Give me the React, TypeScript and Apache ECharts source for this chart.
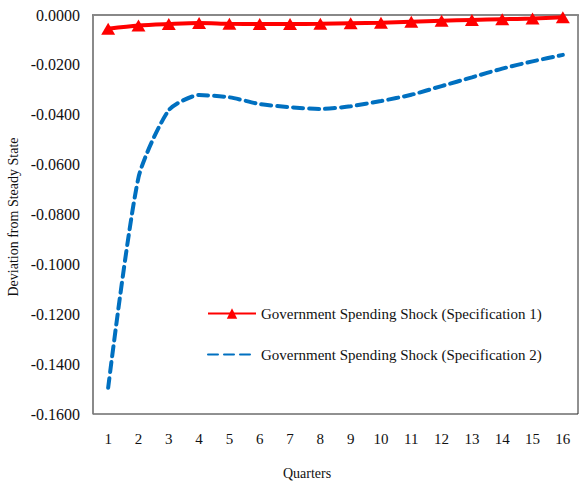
import React, { useEffect, useRef } from "react";
import * as echarts from "echarts";

const quarters = ["1", "2", "3", "4", "5", "6", "7", "8", "9", "10", "11", "12", "13", "14", "15", "16"];
const spec1 = [-0.0055, -0.0042, -0.0036, -0.0032, -0.0035, -0.0036, -0.0036, -0.0035, -0.0033, -0.0031, -0.0027, -0.0023, -0.0020, -0.0017, -0.0014, -0.0009];
const spec2 = [-0.1495, -0.0652, -0.0382, -0.0321, -0.0330, -0.0357, -0.0370, -0.0377, -0.0366, -0.0345, -0.0320, -0.0285, -0.0250, -0.0215, -0.0186, -0.0160];
const seriesNames = [
  "Government Spending Shock (Specification 1)",
  "Government Spending Shock (Specification 2)",
];
const FONT = "Liberation Serif";

export default function App() {
  const ref = useRef<HTMLDivElement>(null);
  useEffect(() => {
    if (!ref.current) return;
    const chart = echarts.init(ref.current, undefined, { renderer: "svg" });
    chart.setOption({
      animation: false,
      backgroundColor: "#fff",
      textStyle: { fontFamily: FONT },
      grid: {
        left: 93,
        right: 4,
        top: 15,
        bottom: 71,
        show: true,
        borderColor: "#222",
        borderWidth: 1,
      },
      legend: {
        orient: "vertical",
        left: 202,
        top: 301,
        itemGap: 26,
        itemWidth: 48,
        itemHeight: 13,
        textStyle: { fontFamily: FONT, fontSize: 15, color: "#111" },
        data: [
          { name: seriesNames[0] },
          { name: seriesNames[1], itemStyle: { opacity: 0 } },
        ],
      },
      xAxis: [
        {
          type: "category",
          data: quarters,
          boundaryGap: true,
          axisTick: { show: false },
          axisLine: { lineStyle: { color: "#222", width: 1.5 } },
          axisLabel: { fontFamily: FONT, fontSize: 15, color: "#111", margin: 17 },
        },
        {
          type: "category",
          position: "top",
          data: quarters,
          axisTick: { show: false },
          axisLabel: { show: false },
          axisLine: { show: true, lineStyle: { color: "#888", width: 2 } },
        },
      ],
      yAxis: {
        type: "value",
        min: -0.16,
        max: 0,
        interval: 0.02,
        splitLine: { show: false },
        axisTick: { show: false },
        axisLine: { show: true, lineStyle: { color: "#888", width: 1.5 } },
        axisLabel: {
          fontFamily: FONT,
          fontSize: 16,
          color: "#111",
          margin: 13,
          formatter: (v: number) => v.toFixed(4),
        },
      },
      graphic: [
        {
          type: "text",
          x: 13,
          y: 217,
          rotation: Math.PI / 2,
          style: {
            text: "Deviation from Steady State",
            fontFamily: FONT,
            fontSize: 14,
            fill: "#111",
            align: "center",
            verticalAlign: "middle",
          },
        },
        {
          type: "text",
          x: 307,
          y: 473,
          style: {
            text: "Quarters",
            fontFamily: FONT,
            fontSize: 14,
            fill: "#111",
            align: "center",
            verticalAlign: "middle",
          },
        },
      ],
      series: [
        {
          name: seriesNames[0],
          type: "line",
          data: spec1,
          smooth: 0.3,
          symbol: "triangle",
          symbolSize: [14, 12],
          itemStyle: { color: "#ff0000" },
          lineStyle: { color: "#ff0000", width: 4 },
          z: 3,
        },
        {
          name: seriesNames[1],
          type: "line",
          data: spec2,
          smooth: 0.22,
          symbol: "none",
          itemStyle: { color: "#0070c0" },
          lineStyle: { color: "#0070c0", width: 4, type: [10, 6], cap: "round" },
          z: 2,
        },
      ],
    });
    return () => chart.dispose();
  }, []);
  return (
    <div
      ref={ref}
      style={{ position: "absolute", left: 0, top: 0, width: 582, height: 485 }}
    />
  );
}
